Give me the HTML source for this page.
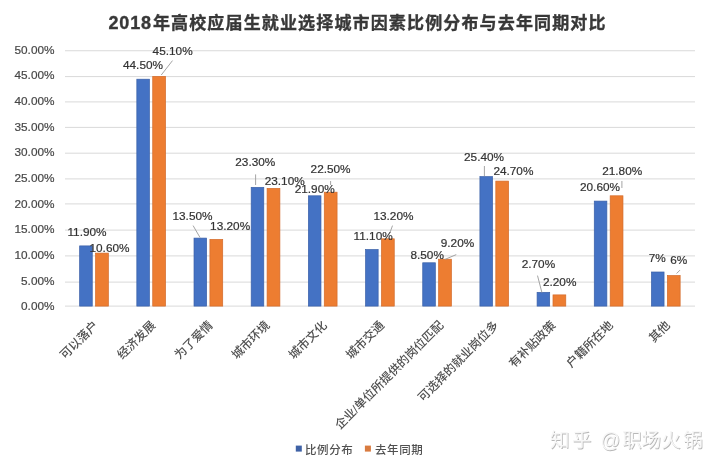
<!DOCTYPE html>
<html lang="zh-CN"><head><meta charset="utf-8"><title>2018年高校应届生就业选择城市因素比例分布与去年同期对比</title><style>
html,body{margin:0;padding:0;background:#fff;}
body{width:720px;height:470px;overflow:hidden;position:relative;}
svg{position:absolute;left:0;top:0;filter:blur(0.4px);}
.cjk{font-family:"Liberation Sans","Noto Sans CJK SC",sans-serif;}
.num{font-family:"Liberation Sans","DejaVu Sans",sans-serif;font-size:11.8px;}
.ax{fill:#474747;stroke:#474747;stroke-width:0.2px;text-anchor:end;}
.dl{fill:#333333;stroke:#333333;stroke-width:0.2px;text-anchor:middle;}
.cat{fill:#505050;font-size:12px;font-weight:500;text-anchor:end;}
.leg{fill:#505050;font-size:11.5px;letter-spacing:0.6px;font-weight:500;}
.ttl{fill:#383838;stroke:#383838;stroke-width:0.35px;font-weight:bold;}
.grid{stroke:#d9d9d9;stroke-width:1;}
.lead{stroke:#9a9a9a;stroke-width:0.9;}
</style></head><body>
<svg width="720" height="470" viewBox="0 0 720 470">
<rect width="720" height="470" fill="#ffffff"/>
<text class="cjk ttl" x="108.5" y="28.9" font-size="18" letter-spacing="0.85">2018</text>
<text class="cjk ttl" x="152.9" y="29.4" font-size="17" letter-spacing="1.15">年高校应届生就业选择城市因素比例分布与去年同期对比</text>
<line class="grid" x1="65" x2="695" y1="306.10" y2="306.10"/>
<text class="num ax" x="54.5" y="310.25">0.00%</text>
<line class="grid" x1="65" x2="695" y1="282.10" y2="282.10"/>
<text class="num ax" x="54.5" y="284.60">5.00%</text>
<line class="grid" x1="65" x2="695" y1="255.90" y2="255.90"/>
<text class="num ax" x="54.5" y="258.95">10.00%</text>
<line class="grid" x1="65" x2="695" y1="230.10" y2="230.10"/>
<text class="num ax" x="54.5" y="233.30">15.00%</text>
<line class="grid" x1="65" x2="695" y1="203.90" y2="203.90"/>
<text class="num ax" x="54.5" y="207.65">20.00%</text>
<line class="grid" x1="65" x2="695" y1="178.90" y2="178.90"/>
<text class="num ax" x="54.5" y="182.00">25.00%</text>
<line class="grid" x1="65" x2="695" y1="153.20" y2="153.20"/>
<text class="num ax" x="54.5" y="156.35">30.00%</text>
<line class="grid" x1="65" x2="695" y1="127.40" y2="127.40"/>
<text class="num ax" x="54.5" y="130.70">35.00%</text>
<line class="grid" x1="65" x2="695" y1="101.90" y2="101.90"/>
<text class="num ax" x="54.5" y="105.05">40.00%</text>
<line class="grid" x1="65" x2="695" y1="76.60" y2="76.60"/>
<text class="num ax" x="54.5" y="79.40">45.00%</text>
<line class="grid" x1="65" x2="695" y1="50.75" y2="50.75"/>
<text class="num ax" x="54.5" y="53.75">50.00%</text>
<rect x="79.65" y="245.90" width="12.6" height="60.20" fill="#4472c4" stroke="#3a60a8" stroke-width="0.7"/>
<rect x="95.55" y="253.10" width="12.8" height="53.00" fill="#ed7d31" stroke="#d36b2b" stroke-width="0.7"/>
<rect x="136.83" y="79.20" width="12.6" height="226.90" fill="#4472c4" stroke="#3a60a8" stroke-width="0.7"/>
<rect x="152.73" y="76.40" width="12.8" height="229.70" fill="#ed7d31" stroke="#d36b2b" stroke-width="0.7"/>
<rect x="194.01" y="238.10" width="12.6" height="68.00" fill="#4472c4" stroke="#3a60a8" stroke-width="0.7"/>
<rect x="209.91" y="239.40" width="12.8" height="66.70" fill="#ed7d31" stroke="#d36b2b" stroke-width="0.7"/>
<rect x="251.19" y="187.34" width="12.6" height="118.76" fill="#4472c4" stroke="#3a60a8" stroke-width="0.7"/>
<rect x="267.09" y="188.36" width="12.8" height="117.74" fill="#ed7d31" stroke="#d36b2b" stroke-width="0.7"/>
<rect x="308.37" y="195.80" width="12.6" height="110.30" fill="#4472c4" stroke="#3a60a8" stroke-width="0.7"/>
<rect x="324.27" y="192.20" width="12.8" height="113.90" fill="#ed7d31" stroke="#d36b2b" stroke-width="0.7"/>
<rect x="365.55" y="249.52" width="12.6" height="56.58" fill="#4472c4" stroke="#3a60a8" stroke-width="0.7"/>
<rect x="381.45" y="238.82" width="12.8" height="67.28" fill="#ed7d31" stroke="#d36b2b" stroke-width="0.7"/>
<rect x="422.73" y="262.78" width="12.6" height="43.32" fill="#4472c4" stroke="#3a60a8" stroke-width="0.7"/>
<rect x="438.63" y="259.21" width="12.8" height="46.89" fill="#ed7d31" stroke="#d36b2b" stroke-width="0.7"/>
<rect x="479.91" y="176.64" width="12.6" height="129.46" fill="#4472c4" stroke="#3a60a8" stroke-width="0.7"/>
<rect x="495.81" y="181.10" width="12.8" height="125.00" fill="#ed7d31" stroke="#d36b2b" stroke-width="0.7"/>
<rect x="537.09" y="292.34" width="12.6" height="13.76" fill="#4472c4" stroke="#3a60a8" stroke-width="0.7"/>
<rect x="552.99" y="294.89" width="12.8" height="11.21" fill="#ed7d31" stroke="#d36b2b" stroke-width="0.7"/>
<rect x="594.27" y="201.10" width="12.6" height="105.00" fill="#4472c4" stroke="#3a60a8" stroke-width="0.7"/>
<rect x="610.17" y="195.80" width="12.8" height="110.30" fill="#ed7d31" stroke="#d36b2b" stroke-width="0.7"/>
<rect x="651.45" y="272.00" width="12.6" height="34.10" fill="#4472c4" stroke="#3a60a8" stroke-width="0.7"/>
<rect x="667.35" y="275.52" width="12.8" height="30.58" fill="#ed7d31" stroke="#d36b2b" stroke-width="0.7"/>
<line class="lead" x1="172.5" y1="60.6" x2="161.25" y2="75"/>
<line class="lead" x1="193.1" y1="225.6" x2="200" y2="237.5"/>
<line class="lead" x1="255.6" y1="174.4" x2="255.6" y2="185"/>
<line class="lead" x1="330.6" y1="181" x2="330.6" y2="185"/>
<line class="lead" x1="392.5" y1="225.6" x2="390" y2="232.5"/>
<line class="lead" x1="456.25" y1="254.6" x2="445" y2="259.4"/>
<line class="lead" x1="484.4" y1="166" x2="484.4" y2="176"/>
<line class="lead" x1="537.5" y1="275.6" x2="541.9" y2="292.5"/>
<line class="lead" x1="621.9" y1="181" x2="621.9" y2="188"/>
<line class="lead" x1="680" y1="270.1" x2="676.6" y2="273.5"/>
<text class="num dl" x="87.00" y="236.40">11.90%</text>
<text class="num dl" x="109.50" y="251.90">10.60%</text>
<text class="num dl" x="143.00" y="68.90">44.50%</text>
<text class="num dl" x="172.62" y="54.50">45.10%</text>
<text class="num dl" x="192.50" y="219.50">13.50%</text>
<text class="num dl" x="230.12" y="229.50">13.20%</text>
<text class="num dl" x="255.30" y="166.40">23.30%</text>
<text class="num dl" x="284.70" y="184.50">23.10%</text>
<text class="num dl" x="330.60" y="173.25">22.50%</text>
<text class="num dl" x="314.70" y="193.25">21.90%</text>
<text class="num dl" x="393.43" y="219.50">13.20%</text>
<text class="num dl" x="373.12" y="239.50">11.10%</text>
<text class="num dl" x="457.50" y="247.00">9.20%</text>
<text class="num dl" x="427.18" y="258.90">8.50%</text>
<text class="num dl" x="484.07" y="161.40">25.40%</text>
<text class="num dl" x="513.42" y="175.10">24.70%</text>
<text class="num dl" x="538.45" y="268.25">2.70%</text>
<text class="num dl" x="559.67" y="286.40">2.20%</text>
<text class="num dl" x="622.20" y="174.50">21.80%</text>
<text class="num dl" x="600.00" y="191.40">20.60%</text>
<text class="num dl" x="657.25" y="261.50">7%</text>
<text class="num dl" x="678.80" y="263.80">6%</text>
<text class="cjk cat" transform="translate(91.85,318.7) rotate(-45)" dy="0.85em">可以落户</text>
<text class="cjk cat" transform="translate(149.03,318.7) rotate(-45)" dy="0.85em">经济发展</text>
<text class="cjk cat" transform="translate(206.21,318.7) rotate(-45)" dy="0.85em">为了爱情</text>
<text class="cjk cat" transform="translate(263.39,318.7) rotate(-45)" dy="0.85em">城市环境</text>
<text class="cjk cat" transform="translate(320.57,318.7) rotate(-45)" dy="0.85em">城市文化</text>
<text class="cjk cat" transform="translate(377.75,318.7) rotate(-45)" dy="0.85em">城市交通</text>
<text class="cjk cat" transform="translate(436.93,318.7) rotate(-45)" dy="0.85em">企业/单位所提供的岗位匹配</text>
<text class="cjk cat" transform="translate(492.11,318.7) rotate(-45)" dy="0.85em">可选择的就业岗位多</text>
<text class="cjk cat" transform="translate(549.29,318.7) rotate(-45)" dy="0.85em">有补贴政策</text>
<text class="cjk cat" transform="translate(606.47,318.7) rotate(-45)" dy="0.85em">户籍所在地</text>
<text class="cjk cat" transform="translate(663.65,318.7) rotate(-45)" dy="0.85em">其他</text>
<rect x="295.8" y="445.6" width="6" height="6" fill="#3f62a6"/>
<text class="cjk leg" x="305" y="453.6">比例分布</text>
<rect x="364.9" y="445.6" width="6" height="6" fill="#d97b40"/>
<text class="cjk leg" x="375" y="453.6">去年同期</text>
<text class="cjk" x="550.70 572.70 592.00 601.35 622.95 642.24 662.06 683.95" y="447.6" font-size="19.5" fill="#b8b8b8">知乎 @职场火锅</text>
<text class="cjk" x="549.90 571.90 591.20 600.55 622.15 641.44 661.26 683.15" y="446.8" font-size="19.5" fill="#f7f7f7">知乎 @职场火锅</text>
</svg></body></html>
